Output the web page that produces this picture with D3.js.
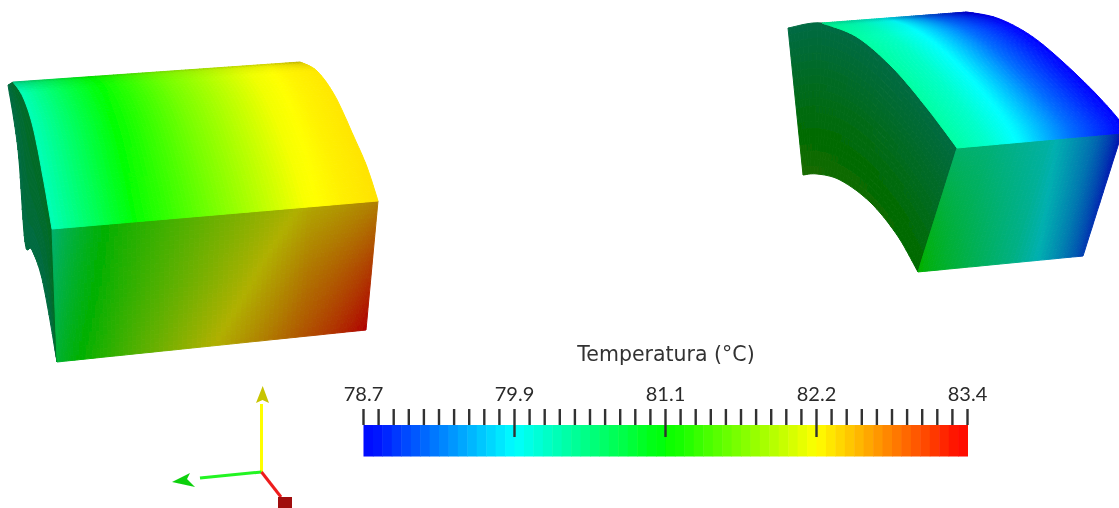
<!DOCTYPE html>
<html><head><meta charset="utf-8">
<script src="https://cdn.jsdelivr.net/npm/d3@7"></script>
<style>html,body{margin:0;padding:0;background:#fff;overflow:hidden}svg{display:block}
text{font-family:Lato,"Open Sans",sans-serif;fill:#2a2a2a}
text.title{font-family:"DejaVu Sans",sans-serif;fill:#333}</style></head>
<body><svg id="c" width="1119" height="508"><defs><filter id="soft" x="-5%" y="-5%" width="110%" height="110%"><feGaussianBlur stdDeviation="0.45"/></filter></defs></svg>
<script>
// ---- legend data ----
const legendTitle = "Temperatura (°C)";
const tempMin = 78.7, tempMax = 83.4;
const tickLabels = ["78.7","79.9","81.1","82.2","83.4"];
const colorStops = ["#0000ff","#00ffff","#00ff00","#ffff00","#ff0000"];
const bandCount = 64;
const subDivisions = 10;

// ---- left block ----
const lbTopLeft  = [[13,82],[23,97],[33,127],[43,177],[52,229]];
const lbTopRight = [[300,62],[317,71],[335,96],[354,137],[367,167],[378,201]];
const lbTopU = [0,.14,.27,.5,.78,.9,1];
const lbTopV = [0,.06,.2,1];
const lbTopT = [
 [80.3,80.7,81.1,81.65,82.1,82.22,82.3],
 [80.25,80.65,81.05,81.6,82.1,82.25,82.32],
 [80.2,80.65,81.05,81.6,82.15,82.27,82.33],
 [80.2,80.65,81.1,81.6,82.2,82.3,82.36]];
const lbTopS = [
 [.72,.8,.82,.84,.82,.8,.72],
 [.85,.92,.95,.95,.94,.92,.88],
 [1,1,1,1,1,1,1],
 [1,1,1,1,1,1,1]];
const lbFrontTop = [[52,229],[378,201]];
const lbFrontBot = [[57,362],[366,330]];
const lbFrontU = [0,.25,.5,.75,1];
const lbFrontV = [0,.5,1];
const lbFrontT = [
 [80.3,81.17,81.75,82.3,82.55],
 [80.5,81.28,81.94,82.6,83.0],
 [80.7,81.45,82.2,82.85,83.4]];
const lbFrontS = [[.69,.69,.69,.69,.69],[.69,.69,.69,.69,.69],[.69,.69,.69,.69,.69]];
const lbSideOuter = [[8,85],[18,150],[25,242],[32,250],[43,283],[57,362]];
const lbSideInner = [[13,82],[23,97],[33,127],[43,177],[52,229],[57,362]];
const lbSideU = [0,1];
const lbSideV = [0,1];
const lbSideT = [[80.3,80.6],[80.3,80.75]];
const lbSideS = [[.42,.42],[.42,.42]];

// ---- right block ----
const rbTopLeft  = [[822,23],[857,37],[893,68],[927,108],[957,148]];
const rbTopRight = [[967,12],[997,18],[1030,35],[1063,62],[1097,95],[1122,124],[1122,133]];
const rbTopU = [0,.2,.4,.7,1];
const rbTopV = [0,.08,.25,1];
const rbTopT = [
 [80.35,80.2,79.98,79.25,78.7],
 [80.35,80.2,79.95,79.2,78.7],
 [80.3,80.15,79.88,79.2,78.7],
 [80.3,80.1,79.82,79.2,78.7]];
const rbTopS = [
 [.85,.82,.8,.75,.75],
 [.95,.95,.95,.9,.85],
 [1,1,1,1,1],
 [1,1,1,1,1]];
const rbFrontTop = [[957,148],[1122,133]];
const rbFrontBot = [[918,272],[1083,256]];
const rbFrontU = [0,.25,.55,.8,1];
const rbFrontV = [0,1];
const rbFrontT = [
 [80.35,80.25,79.95,79.4,78.8],
 [81.1,80.7,80.2,79.6,79.1]];
const rbFrontS = [[.69,.69,.69,.69,.69],[.69,.69,.69,.69,.69]];
const rbSideTop = [[788,28],[822,23],[857,37],[893,68],[927,108],[957,148]];
const rbSideBot = [[803,175],[817,174],[840,180],[870,202],[897,235],[918,272]];
const rbSideU = [0,.5,1];
const rbSideV = [0,.6,1];
const rbSideT = [[80.3,80.3,80.35],[80.9,80.85,80.75],[81.35,81.2,81.1]];
const rbSideS = [[.42,.42,.42],[.42,.42,.42],[.42,.42,.42]];

// ---- orientation triad ----
const axisOrigin = [261.5,472];
const axisYEnd = [261.5,404], axisZEnd = [200,478], axisXEnd = [281,497];
const coneY = [[262.7,386],[256,403],[262.5,400],[269,403]];
const coneZ = [[172,482],[190,473],[187,479],[195,487]];
const cubeX = [[278,497],[292,497],[292,508],[278,508]];

const svg = d3.select("#c");
const root = svg.append("g").attr("filter","url(#soft)");
const stopDomain = d3.range(5).map(i => tempMin + (tempMax-tempMin)*i/4);
const color = d3.scaleLinear().domain(stopDomain).range(colorStops).interpolate(d3.interpolateRgb).clamp(true);

function cr(pts,t){
  const n=pts.length-1, f=Math.min(t*n,n-1e-9), i=Math.floor(f), s=f-i;
  const p=k=>pts[Math.max(0,Math.min(n,k))];
  const a=p(i-1),b=p(i),c=p(i+1),d=p(i+2);
  return [0,1].map(j=>.5*((2*b[j])+(c[j]-a[j])*s+(2*a[j]-5*b[j]+4*c[j]-d[j])*s*s+(3*b[j]-a[j]-3*c[j]+d[j])*s*s*s));
}
function bil(us,vs,g,u,v){
  const iu=Math.max(0,Math.min(us.length-2,d3.bisectRight(us,u)-1));
  const iv=Math.max(0,Math.min(vs.length-2,d3.bisectRight(vs,v)-1));
  const fu=(u-us[iu])/(us[iu+1]-us[iu]), fv=(v-vs[iv])/(vs[iv+1]-vs[iv]);
  return d3.interpolateNumber(
    d3.interpolateNumber(g[iv][iu],g[iv][iu+1])(fu),
    d3.interpolateNumber(g[iv+1][iu],g[iv+1][iu+1])(fu))(fv);
}
const lerp=(a,b,t)=>[a[0]+(b[0]-a[0])*t,a[1]+(b[1]-a[1])*t];
function drawPatch(name,pos,us,vs,T,S,nu,nv){
  const cells=[];
  for(let i=0;i<nu;i++)for(let j=0;j<nv;j++){
    const u0=i/nu,u1=(i+1)/nu,v0=j/nv,v1=(j+1)/nv,uc=(u0+u1)/2,vc=(v0+v1)/2;
    const c=d3.rgb(color(bil(us,vs,T,uc,vc))), s=bil(us,vs,S,uc,vc);
    cells.push({p:[pos(u0,v0),pos(u1,v0),pos(u1,v1),pos(u0,v1)],f:d3.rgb(c.r*s,c.g*s,c.b*s).formatHex()});
  }
  root.append("g").attr("class",name).selectAll("path").data(cells).join("path")
    .attr("d",d=>"M"+d.p.map(q=>q[0].toFixed(1)+","+q[1].toFixed(1)).join("L")+"Z")
    .attr("fill",d=>d.f).attr("stroke",d=>d.f).attr("stroke-width",1);
}
const sideways=(L,R)=>(u,v)=>lerp(cr(L,v),cr(R,v),u);
const downward=(A,B)=>(u,v)=>lerp(cr(A,u),cr(B,u),v);

drawPatch("lb-side",sideways(lbSideOuter,lbSideInner),lbSideU,lbSideV,lbSideT,lbSideS,4,50);
drawPatch("lb-front",downward(lbFrontTop,lbFrontBot),lbFrontU,lbFrontV,lbFrontT,lbFrontS,80,30);
drawPatch("lb-top",sideways(lbTopLeft,lbTopRight),lbTopU,lbTopV,lbTopT,lbTopS,80,40);
drawPatch("rb-side",downward(rbSideTop,rbSideBot),rbSideU,rbSideV,rbSideT,rbSideS,40,20);
drawPatch("rb-front",downward(rbFrontTop,rbFrontBot),rbFrontU,rbFrontV,rbFrontT,rbFrontS,50,25);
drawPatch("rb-top",sideways(rbTopLeft,rbTopRight),rbTopU,rbTopV,rbTopT,rbTopS,70,40);

// ---- legend ----
const x = d3.scaleLinear().domain([tempMin,tempMax]).range([363.5,967.5]);
const legend = root.append("g").attr("class","legend");
const step=(tempMax-tempMin)/bandCount;
legend.append("g").selectAll("rect").data(d3.range(bandCount)).join("rect")
  .attr("x",i=>x(tempMin+i*step)).attr("width",i=>x(tempMin+(i+1)*step)-x(tempMin+i*step)+.5)
  .attr("y",425).attr("height",31.5).attr("fill",i=>color(tempMin+(i+.5)*step));
const span=(tempMax-tempMin);
const allTicks=d3.range(4*subDivisions+1).map(i=>tempMin+span*i/(4*subDivisions));
legend.append("g").selectAll("line").data(allTicks).join("line")
  .attr("x1",d=>x(d)).attr("x2",d=>x(d)).attr("y1",409)
  .attr("y2",(d,i)=>(i%subDivisions===0&&i>0&&i<4*subDivisions)?437:425)
  .attr("stroke","#303030").attr("stroke-width",2.4);
legend.append("g").selectAll("text").data(tickLabels).join("text")
  .attr("x",(d,i)=>x(tempMin+span*i/4)).attr("y",401).attr("text-anchor","middle")
  .attr("font-size",20).text(d=>d);
legend.append("text").attr("class","title").attr("x",666).attr("y",361).attr("text-anchor","middle").attr("font-size",20.5).text(legendTitle);

// ---- triad ----
const triad=root.append("g").attr("class","triad");
const seg=(a,b,c,w)=>triad.append("line").attr("x1",a[0]).attr("y1",a[1]).attr("x2",b[0]).attr("y2",b[1]).attr("stroke",c).attr("stroke-width",w);
seg(axisOrigin,axisYEnd,"#ffff00",3);
seg(axisOrigin,axisZEnd,"#22f522",3);
seg(axisOrigin,axisXEnd,"#ee1c1c",3);
const poly=d3.line();
triad.append("path").attr("d",poly(coneY)+"Z").attr("fill","#c8c400");
triad.append("path").attr("d",poly(coneZ)+"Z").attr("fill","#10d010");
triad.append("path").attr("d",poly(cubeX)+"Z").attr("fill","#a00808");
</script></body></html>
